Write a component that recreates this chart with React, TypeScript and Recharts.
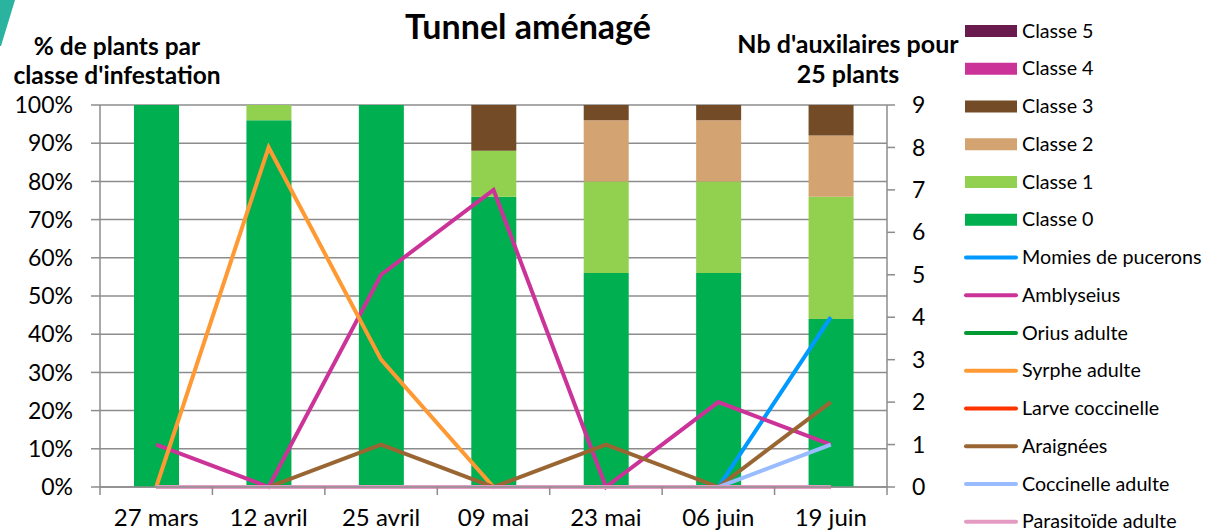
import React from 'react';
import { ComposedChart, Bar, Line, XAxis, YAxis, CartesianGrid } from 'recharts';

const FONT = "Lato, 'Open Sans', sans-serif";
const AXIS = '#8c8c8c';

const categories = ['27 mars', '12 avril', '25 avril', '09 mai', '23 mai', '06 juin', '19 juin'];

// % of plants per infestation class
const classe0 = [100, 96, 100, 76, 56, 56, 44];
const classe1 = [0, 4, 0, 12, 24, 24, 32];
const classe2 = [0, 0, 0, 0, 16, 16, 16];
const classe3 = [0, 0, 0, 12, 4, 4, 8];
const classe4 = [0, 0, 0, 0, 0, 0, 0];
const classe5 = [0, 0, 0, 0, 0, 0, 0];

// number of auxiliaries per 25 plants
const momies = [0, 0, 0, 0, 0, 0, 4];
const amblyseius = [1, 0, 5, 7, 0, 2, 1];
const orius = [0, 0, 0, 0, 0, 0, 0];
const syrphe = [0, 8, 3, 0, 0, 0, 0];
const larveCoccinelle = [0, 0, 0, 0, 0, 0, 0];
const araignees = [0, 0, 1, 0, 1, 0, 2];
const coccinelleAdulte = [0, 0, 0, 0, 0, 0, 1];
const parasitoide = [0, 0, 0, 0, 0, 0, 0];

const leftTicks = [0, 10, 20, 30, 40, 50, 60, 70, 80, 90, 100];
const rightTicks = [0, 1, 2, 3, 4, 5, 6, 7, 8, 9];

const barSeries = [
  { key: 'classe5', name: 'Classe 5', color: '#6A1B4D', values: classe5 },
  { key: 'classe4', name: 'Classe 4', color: '#CC3399', values: classe4 },
  { key: 'classe3', name: 'Classe 3', color: '#734C27', values: classe3 },
  { key: 'classe2', name: 'Classe 2', color: '#D4A372', values: classe2 },
  { key: 'classe1', name: 'Classe 1', color: '#92D050', values: classe1 },
  { key: 'classe0', name: 'Classe 0', color: '#00B050', values: classe0 },
];

const lineSeries = [
  { key: 'momies', name: 'Momies de pucerons', color: '#0099FF', values: momies },
  { key: 'amblyseius', name: 'Amblyseius', color: '#CC3399', values: amblyseius },
  { key: 'orius', name: 'Orius adulte', color: '#009933', values: orius },
  { key: 'syrphe', name: 'Syrphe adulte', color: '#FF9933', values: syrphe },
  { key: 'larve', name: 'Larve coccinelle', color: '#FF3300', values: larveCoccinelle },
  { key: 'araignees', name: 'Araignées', color: '#996633', values: araignees },
  { key: 'coccAdulte', name: 'Coccinelle adulte', color: '#99BBFF', values: coccinelleAdulte },
  { key: 'parasitoide', name: 'Parasitoïde adulte', color: '#E39BC2', values: parasitoide },
];

const data = categories.map((cat, i) => {
  const row: any = { cat };
  barSeries.forEach((s) => (row[s.key] = s.values[i]));
  lineSeries.forEach((s) => (row[s.key] = s.values[i]));
  return row;
});

const XTick = (props: any) => {
  const { x, y, payload, index } = props;
  const off = payload && payload.offset ? payload.offset : 56;
  const axisY = y - 22;
  return (
    <g>
      <line x1={x - off} x2={x - off} y1={axisY} y2={axisY + 8} stroke={AXIS} strokeWidth={1.5} />
      {index === categories.length - 1 && (
        <line x1={x + off} x2={x + off} y1={axisY} y2={axisY + 8} stroke={AXIS} strokeWidth={1.5} />
      )}
      <text x={x} y={y + 17} textAnchor="middle" fill="#000" fontSize={24} fontFamily={FONT}>
        {payload.value}
      </text>
    </g>
  );
};

const legendItems = [
  ...barSeries.map((s) => ({ ...s, type: 'bar' })),
  ...lineSeries.map((s) => ({ ...s, type: 'line' })),
];

export default function App() {
  return (
    <div style={{ position: 'absolute', left: 0, top: 0, width: 1206, height: 532, background: '#fff', fontFamily: FONT }}>
      <ComposedChart
        width={1206}
        height={532}
        data={data}
        margin={{ top: 105, right: 259, bottom: 0, left: 10 }}
      >
        <CartesianGrid yAxisId="left" vertical={false} stroke={AXIS} strokeWidth={1.5} />
        <XAxis
          dataKey="cat"
          height={45}
          axisLine={{ stroke: AXIS, strokeWidth: 1.5 }}
          tickLine={false}
          tickSize={8}
          tickMargin={14}
          tick={<XTick />}
          interval={0}
        />
        <YAxis
          yAxisId="left"
          orientation="left"
          width={90}
          domain={[0, 100]}
          ticks={leftTicks}
          tickFormatter={(v: number) => `${v}%`}
          axisLine={{ stroke: AXIS, strokeWidth: 1.5 }}
          tickLine={{ stroke: AXIS, strokeWidth: 1.5 }}
          tickSize={9}
          tickMargin={18}
          tick={{ fill: '#000', fontSize: 23, fontFamily: FONT }}
          interval={0}
        />
        <YAxis
          yAxisId="right"
          orientation="right"
          width={60}
          domain={[0, 9]}
          ticks={rightTicks}
          axisLine={{ stroke: AXIS, strokeWidth: 1.5 }}
          tickLine={{ stroke: AXIS, strokeWidth: 1.5 }}
          tickSize={8}
          tickMargin={17}
          tick={{ fill: '#000', fontSize: 23, fontFamily: FONT }}
          interval={0}
        />
        {[...barSeries].reverse().map((s) => (
          <Bar
            key={s.key}
            yAxisId="left"
            dataKey={s.key}
            name={s.name}
            stackId="a"
            fill={s.color}
            barSize={45}
            isAnimationActive={false}
          />
        ))}
        {lineSeries.map((s) => (
          <Line
            key={s.key}
            yAxisId="right"
            type="linear"
            dataKey={s.key}
            name={s.name}
            stroke={s.color}
            strokeWidth={4}
            dot={false}
            activeDot={false}
            isAnimationActive={false}
          />
        ))}
      </ComposedChart>
      <svg
        width={1206}
        height={532}
        style={{ position: 'absolute', left: 0, top: 0, pointerEvents: 'none' }}
      >
        <polygon points="0,0 15,0 1,46 0,46" fill="#2AB39E" />
        <text x={528} y={39} textAnchor="middle" fontSize={34} fontWeight={700} fontFamily={FONT} fill="#000">
          Tunnel aménagé
        </text>
        <text textAnchor="middle" fontSize={24.5} fontWeight={700} fontFamily={FONT} fill="#000">
          <tspan x={117} y={55}>% de plants par</tspan>
          <tspan x={117} y={84}>classe d'infestation</tspan>
        </text>
        <text textAnchor="middle" fontSize={25} fontWeight={700} fontFamily={FONT} fill="#000">
          <tspan x={848} y={53}>Nb d'auxilaires pour</tspan>
          <tspan x={848} y={83}>25 plants</tspan>
        </text>
        {legendItems.map((it, i) => {
          const cy = 31 + i * 37.75;
          return (
            <g key={it.key}>
              {it.type === 'bar' ? (
                <rect x={965} y={cy - 6} width={52} height={12} fill={it.color} />
              ) : (
                <line x1={966} x2={1016} y1={cy} y2={cy} stroke={it.color} strokeWidth={4} strokeLinecap="round" />
              )}
              <text x={1022} y={cy + 6.5} fontSize={19.7} fontFamily={FONT} fill="#000">
                {it.name}
              </text>
            </g>
          );
        })}
      </svg>
    </div>
  );
}
